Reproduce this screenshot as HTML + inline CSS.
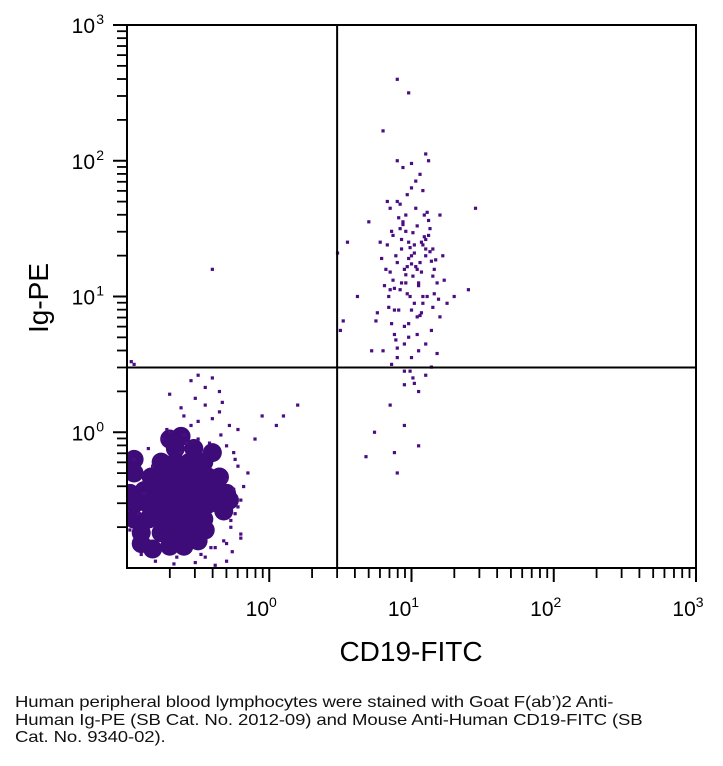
<!DOCTYPE html>
<html><head><meta charset="utf-8"><style>
body{margin:0;background:#fff;width:723px;height:766px;overflow:hidden;font-family:"Liberation Sans",sans-serif}
#cap{position:absolute;left:15px;top:694px;font-size:16px;line-height:17.5px;color:#111;white-space:nowrap;letter-spacing:-0.1px;transform:scaleX(1.16);transform-origin:0 0}
</style></head><body>
<svg id="chart" width="723" height="690" style="position:absolute;left:0;top:0" font-family="Liberation Sans, sans-serif"></svg>
<div id="cap">Human peripheral blood lymphocytes were stained with Goat F(ab’)2 Anti-<br>Human Ig-PE (SB Cat. No. 2012-09) and Mouse Anti-Human CD19-FITC (SB<br>Cat. No. 9340-02).</div>
<script>
// data in log10 units
const xDecades=[0,1,2,3];
const yDecades=[0,1,2,3];
const quadX=3, quadY=3;
const coreLogX=[-0.66,-0.53,-0.76,-0.66,-0.56,-0.46,-0.83,-0.73,-0.63,-0.53,-0.43,-0.35,-0.88,-0.78,-0.68,-0.58,-0.48,-0.38,-0.95,-0.85,-0.73,-0.63,-0.53,-0.43,-0.35,-0.95,-0.85,-0.76,-0.66,-0.56,-0.46,-0.9,-0.76,-0.66,-0.56,-0.7,-0.6,-0.95,-0.95,-0.3,-0.32,-0.9,-0.82,-0.5,-0.45,-0.7,-0.62,-0.98,-0.28,-0.4,-0.61,-0.71,-0.81,-0.51,-0.41,-0.6,-0.7,-0.8,-0.5,-0.65,-0.75];
const coreLogY=[-0.12,-0.12,-0.22,-0.22,-0.22,-0.22,-0.33,-0.33,-0.33,-0.33,-0.33,-0.33,-0.43,-0.43,-0.43,-0.43,-0.43,-0.43,-0.53,-0.53,-0.53,-0.53,-0.53,-0.53,-0.53,-0.64,-0.64,-0.64,-0.64,-0.64,-0.64,-0.74,-0.74,-0.74,-0.74,-0.84,-0.84,-0.3,-0.2,-0.45,-0.58,-0.82,-0.86,-0.8,-0.72,-0.05,-0.03,-0.45,-0.5,-0.15,-0.38,-0.38,-0.38,-0.38,-0.48,-0.58,-0.58,-0.58,-0.69,-0.69,-0.28];
const tLogX=[-0.55,-0.6,-0.45,-0.5,-0.7,-0.4,-0.35,-0.3,-0.28,-0.25,-0.22,-0.3,-0.42,-0.52,-0.62,-0.75,-0.85,-0.95,-0.9,-0.8,-0.65,-0.48,-0.38,-0.32,-0.27,-0.24,-0.2,-0.18,-0.15,-0.45,-0.55,-0.35,-0.6,-0.7,-0.5,-0.4,-0.33,-0.22,-0.1,0.05,-0.05,-0.58,-0.45,-0.38,-0.52,-0.67,-0.2,-0.26,-0.3,-0.41,-0.72,-0.82,-0.88,-0.92,-0.98,-0.34,-0.5,-0.62,0.1,0.2,-0.4,-0.25,-0.22,-0.27,-0.2,-0.24,-0.3,-0.95,-0.97];
const tLogY=[0.05,0.12,0.2,-0.05,0.0,0.1,0.3,-0.1,0.05,-0.15,-0.25,-0.35,-0.08,0.25,0.18,-0.05,-0.12,-0.2,-0.9,-0.95,-0.92,-0.9,-0.85,-0.8,-0.7,-0.6,-0.5,-0.4,-0.3,0.33,0.38,0.15,-0.02,0.28,0.42,0.4,0.22,0.02,-0.05,0.05,0.12,-0.08,-0.92,-0.98,-0.96,-0.97,-0.78,-0.88,-0.95,-0.85,0.02,-0.25,-0.45,-0.6,-0.72,-0.02,0.08,-0.15,0.12,0.2,1.2,-0.42,-0.55,-0.65,-0.75,-0.2,-0.82,0.5,0.52];
const bLogX=[0.95,1.0,1.05,0.9,1.1,0.85,1.15,0.98,1.02,0.92,1.08,0.88,1.12,0.96,1.04,0.94,1.06,0.9,1.1,1.0,0.82,1.18,0.86,1.14,0.98,1.03,0.93,1.07,0.99,1.01,0.87,1.13,0.95,1.05,0.91,1.09,0.97,1.03,0.84,1.16,0.8,1.2,0.89,1.11,0.96,1.04,0.92,1.08,1.0,0.94,1.06,0.9,1.1,0.85,1.15,0.98,1.02,0.78,1.22,0.88,0.96,1.04,1.0,0.93,1.07,0.75,1.25,0.9,1.1,0.86,1.14,0.99,1.01,0.95,1.05,0.72,1.3,1.45,0.62,0.55,0.7,0.8,0.9,1.0,0.85,0.95,1.05,0.68,0.74,0.5,0.48,0.52,0.95,1.1,0.9,1.02,0.88,1.2,0.98,1.12,1.4,0.83,1.08,0.97,1.18,
0.93,1.03,1.13,0.83,0.87,0.97,1.07,1.17,0.91,1.01,1.11,0.85,0.95,1.05,1.15,0.89,0.99,1.09,0.81,1.19,0.94,1.04,1.14,0.84,0.92,1.02,1.12,0.86,0.96,1.06,1.16,0.88,0.98,1.08,0.9,1.0,1.1,0.79,0.76,1.23];
const bLogY=[1.2,1.3,1.1,1.25,1.35,1.05,1.15,1.4,0.95,1.5,1.0,0.9,1.45,1.6,0.85,1.55,1.25,1.7,1.3,1.8,1.2,1.1,0.8,0.75,0.7,1.65,1.35,1.4,1.0,1.15,1.45,1.5,0.65,0.6,0.9,1.6,1.75,1.85,1.0,1.2,0.6,0.85,1.3,1.0,1.1,1.2,1.05,0.95,0.55,1.95,1.9,0.55,0.65,1.65,1.35,1.28,1.38,1.4,1.3,0.72,1.48,1.52,0.9,1.1,1.18,0.82,0.95,2.0,2.05,0.5,0.48,0.45,0.4,0.35,0.3,0.6,1.0,1.65,1.0,1.4,1.55,2.22,2.6,1.98,0.2,0.05,-0.1,-0.18,0.0,0.75,1.32,0.82,0.45,0.42,-0.3,0.36,-0.15,1.6,2.5,2.0,1.05,1.7,1.78,1.22,0.58,
1.42,1.22,1.33,1.38,1.12,1.02,0.88,1.27,1.58,1.47,1.62,1.18,0.78,1.08,0.92,0.68,1.36,1.44,1.08,0.98,1.53,0.72,1.26,0.92,1.68,1.32,1.56,1.48,1.16,0.86,1.02,1.06,0.8,1.38,0.62,1.24,1.42,1.28,0.88,1.12];
const svg=document.getElementById('chart');
const NS='http://www.w3.org/2000/svg';
const L=127,R=696,T=25,B=568;
const xs=v=>L+(v+1)/4*(R-L);
const ys=v=>B-(v+1)/4*(B-T);
function mk(tag,at,parent){const e=document.createElementNS(NS,tag);for(const k in at)e.setAttribute(k,at[k]);(parent||svg).appendChild(e);return e;}
const col='#4a0d82';
const clip=mk('clipPath',{id:'pc'});mk('rect',{x:L,y:T,width:R-L,height:B-T},clip);
const g=mk('g',{'clip-path':'url(#pc)'});
for(let i=0;i<coreLogX.length;i++){const c=mk('circle',{cx:xs(coreLogX[i]),cy:ys(coreLogY[i]),r:9.5,fill:'#3d0c78'},g);

}
function dots(ax,ay,name){for(let i=0;i<ax.length;i++){const c=mk('rect',{x:xs(ax[i])-1.6,y:ys(ay[i])-1.6,width:3.2,height:3.2,fill:col},g);

}}
dots(tLogX,tLogY,'cd19-negative-event');
dots(bLogX,bLogY,'cd19-positive-event');
const f=mk('rect',{x:L,y:T,width:R-L,height:B-T,fill:'none',stroke:'#000','stroke-width':2});


const qx=mk('line',{x1:xs(Math.log10(quadX)),x2:xs(Math.log10(quadX)),y1:T,y2:B,stroke:'#000','stroke-width':2});


const qy=mk('line',{x1:L,x2:R,y1:ys(Math.log10(quadY)),y2:ys(Math.log10(quadY)),stroke:'#000','stroke-width':2});


for(let d=-1;d<3;d++)for(let m=2;m<=10;m++){const v=d+Math.log10(m);const big=m===10;
const tx=mk('line',{x1:xs(v),x2:xs(v),y1:B,y2:B+(big?14:10),stroke:'#000','stroke-width':big?2:1.8});


const ty=mk('line',{x1:L,x2:L-(big?14:10),y1:ys(v),y2:ys(v),stroke:'#000','stroke-width':big?2:1.8});

}
xDecades.forEach(d=>{const t=mk('text',{x:xs(d)-8,y:616,'font-size':21,'text-anchor':'middle'});t.textContent='10';
const s=mk('tspan',{dy:-9,'font-size':14},t);s.textContent=d;

});
yDecades.forEach(d=>{const t=mk('text',{x:95,y:ys(d)+8,'font-size':21,'text-anchor':'end'});t.textContent='10';
const s=mk('tspan',{x:104,dy:-9,'font-size':14},t);s.textContent=d;

});
const xt=mk('text',{x:411,y:661,'font-size':28,'text-anchor':'middle'});xt.textContent='CD19-FITC';


const yt=mk('text',{x:0,y:0,'font-size':28,'text-anchor':'middle',transform:'translate(48,298) rotate(-90)'});yt.textContent='Ig-PE';


</script>
</body></html>
